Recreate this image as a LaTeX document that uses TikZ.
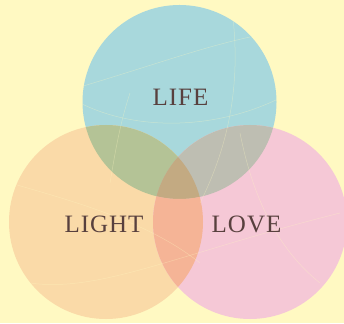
\documentclass[tikz,border=0pt]{standalone}
\usepackage{fontspec}
\newfontfamily\wordfont[LetterSpace=4]{Liberation Serif}

\definecolor{bgyellow}{RGB}{255,249,194}
\definecolor{lifeblue}{RGB}{168,216,220}
\definecolor{lightorange}{RGB}{250,218,168}
\definecolor{lovepink}{RGB}{245,200,214}
\definecolor{lifelight}{RGB}{180,195,150}
\definecolor{lifelove}{RGB}{190,190,178}
\definecolor{lightlove}{RGB}{245,180,150}
\definecolor{allthree}{RGB}{195,170,130}
\definecolor{wordbrown}{RGB}{88,64,62}

\begin{document}
\begin{tikzpicture}[x=1pt,y=1pt,
    word/.style={text=wordbrown,anchor=base,inner sep=0pt,
      font=\wordfont\fontsize{25}{25}\selectfont},
    vein/.style={draw=bgyellow,line width=0.5pt,opacity=0.35}]
    \fill[bgyellow] (0,0) rectangle (344,323);
    \useasboundingbox (0,0) rectangle (344,323);
    % the three circles
    \coordinate (life) at (179.5,221);
    \coordinate (light) at (106,101);
    \coordinate (love) at (250,101);
    \fill[lifeblue] (life) circle [radius=97];
    \fill[lightorange] (light) circle [radius=97];
    \fill[lovepink] (love) circle [radius=97];
    % overlaps
    \begin{scope}
    \clip (life) circle [radius=97];
    \fill[lifelight] (light) circle [radius=97];
    \fill[lifelove] (love) circle [radius=97];
    \clip (light) circle [radius=97];
    \fill[allthree] (love) circle [radius=97];
    \end{scope}
    \begin{scope}[even odd rule]
    \clip (light) circle [radius=97];
    \clip (0,0) rectangle (344,323) (life) circle [radius=97];
    \fill[lightlove] (love) circle [radius=97];
    \end{scope}
    % faint veins
    \begin{scope}
    \clip (life) circle [radius=97] (light) circle [radius=97] (love) circle [radius=97];
    \draw[vein] (80,236) .. controls (160,260) and (200,275) .. (250,286);
    \draw[vein] (80,220) .. controls (140,190) and (220,195) .. (280,225);
    \draw[vein] (233,305) .. controls (240,240) and (230,180) .. (200,120);
    \draw[vein] (130,230) .. controls (120,200) and (115,170) .. (110,140);
    \draw[vein] (10,140) .. controls (80,120) and (150,100) .. (200,60);
    \draw[vein] (30,40) .. controls (100,30) and (180,70) .. (340,110);
    \draw[vein] (240,190) .. controls (250,140) and (270,80) .. (320,40);
    \end{scope}
    % labels
    \node[word] (lifeword) at (180.5,217) {LIFE};
    \node[word] (lightword) at (104,90.5) {LIGHT};
    \node[word] (loveword) at (246.5,90.5) {LOVE};
\end{tikzpicture}
\end{document}
